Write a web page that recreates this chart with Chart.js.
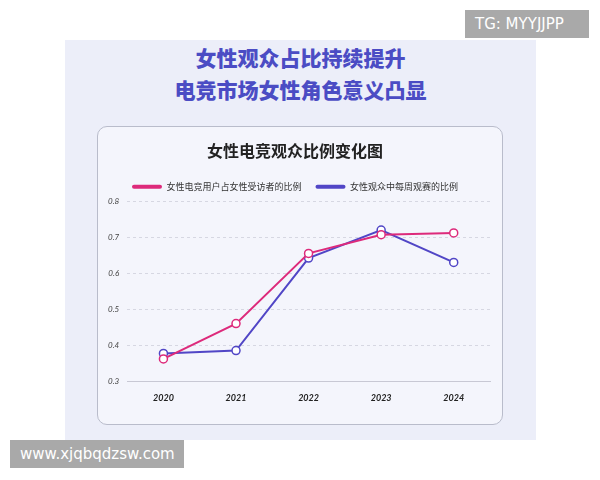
<!DOCTYPE html>
<html>
<head>
<meta charset="utf-8">
<script src="https://cdn.jsdelivr.net/npm/chart.js"></script>
<style>
    body { margin: 0; width: 600px; height: 480px; background: #fff; position: relative; overflow: hidden; font-family: "Noto Sans CJK SC", sans-serif; }
    .panel { position: absolute; left: 65px; top: 40px; width: 471px; height: 400px; background: #eceef9; }
    .headline { position: absolute; left: 65px; width: 471px; text-align: center; color: #4b4cc4; font-weight: 900; font-size: 21px; }
    .card { position: absolute; left: 97px; top: 126px; width: 404px; height: 297px; border: 1.5px solid #b9bccb; border-radius: 10px; background: #f4f5fc; }
    .tag { position: absolute; background: #a9a9a9; color: #fff; font-family: "DejaVu Sans", sans-serif; font-size: 15px; padding: 5px 10px; }
</style>
</head>
<body>
<div class="panel"></div>
<div class="headline" style="top:42px">女性观众占比持续提升</div>
<div class="headline" style="top:74px">电竞市场女性角色意义凸显</div>
<div class="card"><canvas id="chart" width="404" height="297"></canvas></div>
<div class="tag" style="left:465px; top:10px; width:104px;">TG: MYYJJPP</div>
<div class="tag" style="left:10px; top:440px; width:154px;">www.xjqbqdzsw.com</div>
<script>
// data
const years = ['2020', '2021', '2022', '2023', '2024'];
const shareOfRespondents = [0.362, 0.46, 0.655, 0.707, 0.712];
const weeklyViewers = [0.377, 0.385, 0.642, 0.72, 0.63];
const yTicks = [0.3, 0.4, 0.5, 0.6, 0.7, 0.8];

const pink = '#dd2a7b';
const blue = '#5146c6';

const makeSeries = (label, values, color) => ({
    label: label,
    data: values,
    borderColor: color,
    backgroundColor: color,
    borderWidth: 2,
    pointRadius: 4,
    pointBorderWidth: 1.5,
    pointBackgroundColor: '#ffffff',
    pointBorderColor: color,
    tension: 0
});

new Chart(document.getElementById('chart'), {
    type: 'line',
    data: {
        labels: years,
        datasets: [
            makeSeries('女性电竞用户占女性受访者的比例', shareOfRespondents, pink),
            makeSeries('女性观众中每周观赛的比例', weeklyViewers, blue)
        ]
    },
    options: {
        responsive: false,
        animation: false,
        layout: { padding: { left: 2, right: 12, top: 0, bottom: 18 } },
        plugins: {
            title: {
                display: true,
                text: '女性电竞观众比例变化图',
                color: '#222',
                font: { size: 16, weight: 'bold', family: '"Noto Sans CJK SC"' },
                padding: { top: 14, bottom: 8 }
            },
            legend: {
                labels: {
                    generateLabels: (chart) => chart.data.datasets.map((ds, i) => ({
                        text: ds.label,
                        fillStyle: ds.borderColor,
                        strokeStyle: ds.borderColor,
                        lineWidth: 0,
                        borderRadius: 2,
                        datasetIndex: i,
                        fontColor: '#333'
                    })),
                    boxWidth: 30,
                    boxHeight: 4,
                    useBorderRadius: true,
                    borderRadius: 2,
                    color: '#333',
                    font: { size: 9, family: '"Noto Sans CJK SC"' },
                    padding: 14
                }
            }
        },
        scales: {
            x: {
                offset: true,
                grid: { display: false },
                border: { color: '#c8c8d4' },
                ticks: { color: '#222', font: { size: 9, style: 'italic', weight: 'bold', family: 'Lato' } }
            },
            y: {
                min: 0.3,
                max: 0.8,
                afterBuildTicks: (axis) => { axis.ticks = yTicks.map(v => ({ value: v })); },
                border: { display: false, dash: [3, 3] },
                grid: { color: '#d6d7e2', tickLength: 0 },
                ticks: {
                    color: '#444',
                    padding: 8,
                    font: { size: 8, style: 'italic', family: 'Lato' },
                    callback: (v) => v.toFixed(1)
                }
            }
        }
    }
});
</script>
</body>
</html>
